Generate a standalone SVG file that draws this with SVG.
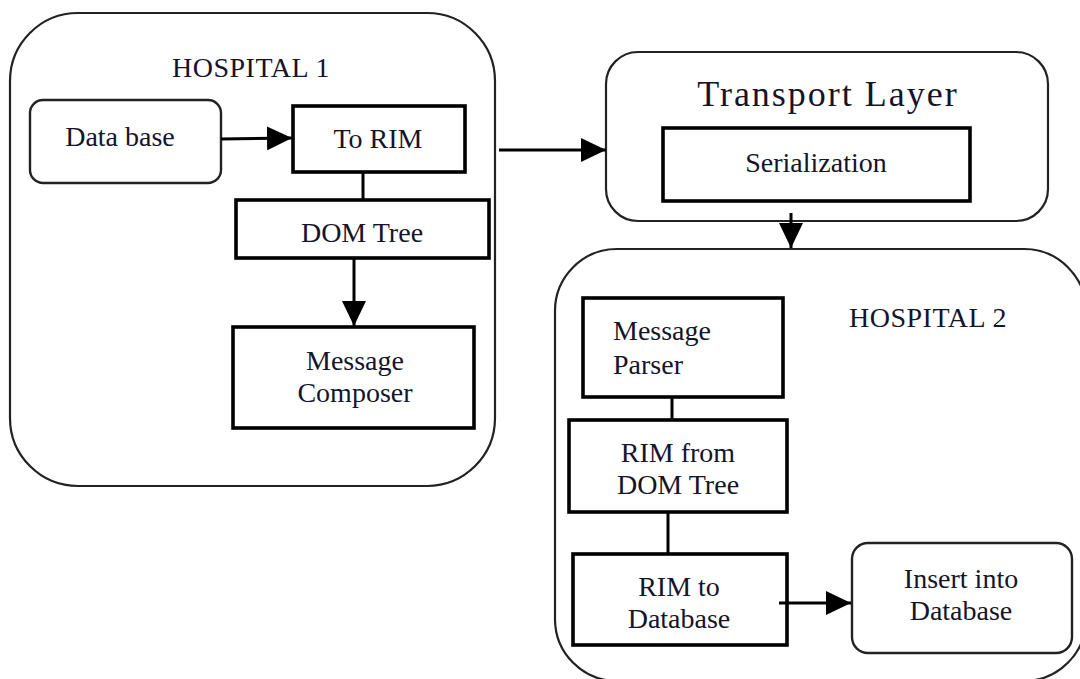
<svg xmlns="http://www.w3.org/2000/svg" width="1080" height="679" viewBox="0 0 1080 679">
<style>
.bg{fill:#fff}
.cont{fill:none;stroke:#222;stroke-width:2.2}
.soft{fill:#fff;stroke:#222;stroke-width:2.4}
.box{fill:#fff;stroke:#000;stroke-width:3.6}
.t{font-family:"Liberation Serif","Times New Roman",serif;font-size:28px;fill:#14142a;text-anchor:middle}
.tl{text-anchor:start}
.big{font-size:36px;letter-spacing:2px}
.ln{fill:none;stroke:#000;stroke-width:3}
</style>
<defs>
<marker id="ah" markerUnits="userSpaceOnUse" markerWidth="25" markerHeight="24" refX="25" refY="12" orient="auto">
<path d="M0,0 L25,12 L0,24 z" fill="#000"/>
</marker>
</defs>
<rect class="bg" x="0" y="0" width="1080" height="679"/>

<g id="hospital1">
<rect class="cont" x="10" y="13" width="485" height="473" rx="68" ry="68"/>
<text class="t" x="251" y="77" letter-spacing="0.5">HOSPITAL 1</text>
</g>
<g id="database">
<rect class="soft" x="30" y="100" width="191" height="83" rx="13" ry="13"/>
<text class="t" x="120" y="146">Data base</text>
</g>
<g id="torim">
<rect class="box" x="293" y="106" width="172" height="66"/>
<text class="t" x="378" y="148">To RIM</text>
</g>
<g id="domtree">
<rect class="box" x="236" y="200" width="253" height="58"/>
<text class="t" x="362" y="242">DOM Tree</text>
</g>
<g id="composer">
<rect class="box" x="233" y="327" width="241" height="101"/>
<text class="t" x="355" y="370">Message</text>
<text class="t" x="355" y="402">Composer</text>
</g>

<g id="transport">
<rect class="cont" x="606" y="52" width="442" height="169" rx="32" ry="32"/>
<text class="t big" x="828" y="106">Transport Layer</text>
</g>
<g id="serialization">
<rect class="box" x="663" y="128" width="307" height="73"/>
<text class="t" x="816" y="172">Serialization</text>
</g>

<g id="hospital2">
<rect class="cont" x="555" y="249" width="531" height="432" rx="62" ry="62"/>
<text class="t" x="928" y="327" letter-spacing="0.5">HOSPITAL 2</text>
</g>
<g id="parser">
<rect class="box" x="583" y="298" width="200" height="99"/>
<text class="t tl" x="613" y="340">Message</text>
<text class="t tl" x="613" y="374">Parser</text>
</g>
<g id="rimfromdom">
<rect class="box" x="569" y="420" width="218" height="92"/>
<text class="t" x="678" y="462">RIM from</text>
<text class="t" x="678" y="494">DOM Tree</text>
</g>
<g id="rimtodb">
<rect class="box" x="573" y="554" width="214" height="91"/>
<text class="t" x="679" y="596">RIM to</text>
<text class="t" x="679" y="628">Database</text>
</g>
<g id="insert">
<rect class="soft" x="852" y="543" width="220" height="110" rx="16" ry="16"/>
<text class="t" x="961" y="588">Insert into</text>
<text class="t" x="961" y="620">Database</text>
</g>

<g id="connectors">
<line class="ln" x1="221" y1="139" x2="292" y2="138" marker-end="url(#ah)"/>
<line class="ln" x1="363" y1="172" x2="363" y2="200"/>
<line class="ln" x1="354" y1="258" x2="354" y2="326" marker-end="url(#ah)"/>
<line class="ln" x1="499" y1="150" x2="606" y2="150" marker-end="url(#ah)"/>
<line class="ln" x1="791" y1="213" x2="791" y2="248" marker-end="url(#ah)"/>
<line class="ln" x1="672" y1="397" x2="672" y2="420"/>
<line class="ln" x1="668" y1="512" x2="668" y2="554"/>
<line class="ln" x1="779" y1="603" x2="851" y2="603" marker-end="url(#ah)"/>
</g>
</svg>
